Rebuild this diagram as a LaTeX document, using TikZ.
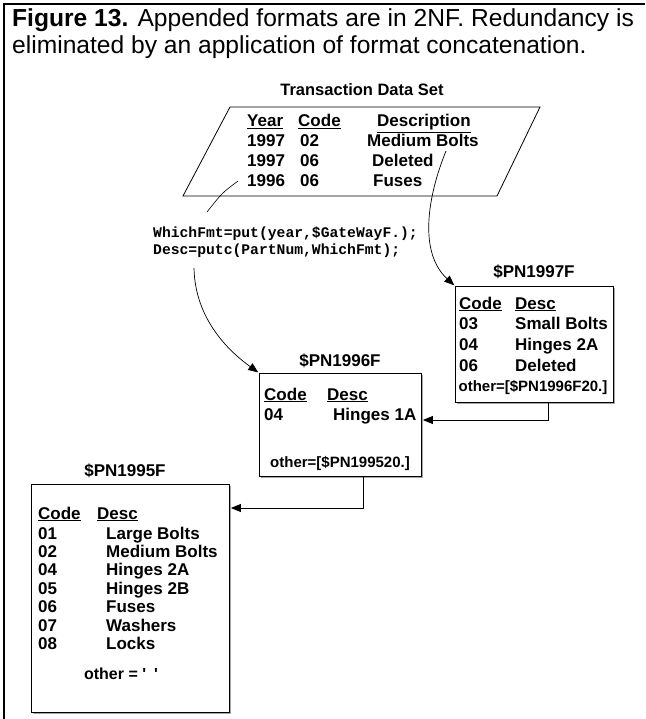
\documentclass[tikz,border=0pt]{standalone}
\usepackage{fontspec}
\setmainfont{Liberation Sans}
\setmonofont{Liberation Mono}
\usetikzlibrary{arrows.meta,shadows}

\tikzset{
  fmtbox/.style={draw,line width=0.9pt,fill=white,anchor=north west,inner sep=0pt,
    drop shadow={shadow xshift=1.2pt,shadow yshift=-1.2pt,fill=gray!70,opacity=1}},
  cell/.style={anchor=base west,inner sep=0pt,font=\fontsize{17}{20}\selectfont\bfseries},
  fmtname/.style={anchor=base,inner sep=0pt,font=\fontsize{17}{20}\selectfont\bfseries},
  othertxt/.style={anchor=base,inner sep=0pt,font=\fontsize{15}{18}\selectfont\bfseries},
  codetxt/.style={anchor=base west,inner sep=0pt,font=\fontsize{14.7}{17}\selectfont\ttfamily\bfseries},
  captxt/.style={anchor=base west,inner sep=0pt,font=\fontsize{24.6}{28}\selectfont},
  arr/.style={-{Triangle[length=10pt,width=8pt]},line width=0.7pt,shorten >=1pt}
}

\begin{document}
\begin{tikzpicture}[x=1pt,y=-1pt]
	\useasboundingbox (0,0) rectangle (645,719);
	\draw[line width=2pt] (645,4) -- (4,4) -- (4,719);
	% caption
	\node[captxt] (cap1) at (12,27) {\textbf{Figure 13.} Appended formats are in 2NF. Redundancy is};
	\node[captxt] (cap2) at (12,54) {eliminated by an application of format concatenation.};

	% transaction data set
	\node[fmtname,font=\fontsize{16.5}{20}\selectfont\bfseries] (tdsname) at (362,96) {Transaction Data Set};
	\draw[line width=0.8pt] (230,107) -- (540,107) -- (497,196) -- (183,196) -- cycle;
	\node[cell] (tyear) at (247,127) {\underline{Year}};
	\node[cell] (tcode) at (298,127) {\underline{Code}};
	\node[cell] (tdesc) at (377,127) {\underline{Description}};
	\foreach \yr/\cd/\dsc/\dx/\y [count=\i] in {1997/02/Medium Bolts/367/147,1997/06/Deleted/372/167,1996/06/Fuses/373/187}{
		\node[cell] (yr\i) at (247,\y) {\yr};
		\node[cell] (cd\i) at (300,\y) {\cd};
		\node[cell] (ds\i) at (\dx,\y) {\dsc};
	}

	% put statements
	\node[codetxt] (code1) at (153,237) {WhichFmt=put(year,\$GateWayF.);};
	\node[codetxt] (code2) at (153,254) {Desc=putc(PartNum,WhichFmt);};

	% formats
	\node[fmtbox,minimum width=158pt,minimum height=116pt] (pn1997) at (455,286) {};
	\node[fmtname] (n1997) at (534,277) {\$PN1997F};
	\node[cell] (c1997) at (459,309) {\underline{Code}};
	\node[cell] (d1997) at (515,309) {\underline{Desc}};
	\foreach \cd/\dsc/\y [count=\i] in {03/Small Bolts/329,04/Hinges 2A/350,06/Deleted/371}{
		\node[cell] (ca\i) at (459,\y) {\cd};
		\node[cell] (da\i) at (515,\y) {\dsc};
	}
	\node[othertxt] (o1997) at (533,391) {other=[\$PN1996F20.]};

	\node[fmtbox,minimum width=162pt,minimum height=103pt] (pn1996) at (259,373) {};
	\node[fmtname] (n1996) at (340,366) {\$PN1996F};
	\node[cell] (c1996) at (264,400) {\underline{Code}};
	\node[cell] (d1996) at (327,400) {\underline{Desc}};
	\node[cell] (cb1) at (264,420) {04};
	\node[cell] (db1) at (333,420) {Hinges 1A};
	\node[othertxt] (o1996) at (340,467) {other=[\$PN199520.]};

	\node[fmtbox,minimum width=198pt,minimum height=228pt] (pn1995) at (31,484) {};
	\node[fmtname] (n1995) at (125,476) {\$PN1995F};
	\node[cell] (c1995) at (38,519) {\underline{Code}};
	\node[cell] (d1995) at (97,519) {\underline{Desc}};
	\foreach \cd/\dsc [count=\i] in {01/Large Bolts,02/Medium Bolts,04/Hinges 2A,05/Hinges 2B,06/Fuses,07/Washers,08/Locks}{
		\node[cell] (cc\i) at (38,520.6+18.4*\i) {\cd};
		\node[cell] (dc\i) at (106,520.6+18.4*\i) {\dsc};
	}
	\node[othertxt,font=\fontsize{16}{18}\selectfont\bfseries] (o1995) at (121,679) {other = \textquotesingle\hspace{8pt}\textquotesingle};

	% connectors
	\coordinate (leadin) at (238,181);
	\coordinate (leadout) at (207,212);
	\draw[line width=0.6pt] (leadin) .. controls (222,193) .. (leadout);
	\coordinate (descout) at (194,268);
	\draw[arr] (descout) .. controls (195,320) and (230,352) .. (pn1996.north west);
	\coordinate (medout) at (446,151);
	\draw[arr] (medout) .. controls (428,195) and (418,252) .. (pn1997.north west);
	\draw[arr] ([xshift=93pt]pn1997.south west) |- ([yshift=-47pt]pn1996.north east);
	\draw[arr] ([xshift=104pt]pn1996.south west) |- ([yshift=-24pt]pn1995.north east);
\end{tikzpicture}
\end{document}
